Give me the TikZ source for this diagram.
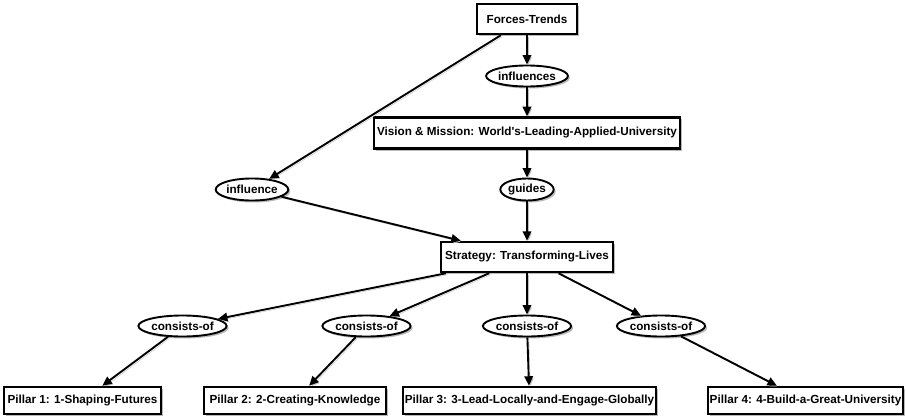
\documentclass[tikz,border=0pt]{standalone}
\usepackage{fontspec}
\setmainfont{Liberation Sans}
\usetikzlibrary{arrows.meta,shapes.geometric,shadows}
\begin{document}
\begin{tikzpicture}[x=1pt,y=-1pt,
  every node/.style={font=\fontsize{11.7}{14}\selectfont\bfseries, inner sep=0pt},
  soft shadow/.style={drop shadow={shadow xshift=2pt, shadow yshift=-2pt, fill=black!45, opacity=0.6}},
  concept/.style={draw, rectangle, line width=2.5pt, fill=white, soft shadow},
  linkword/.style={draw, ellipse, line width=1.9pt, fill=white, soft shadow},
  conn/.style={line width=1.9pt, -{Triangle[length=9.5pt,width=8.5pt]},
    preaction={draw=black!25, transform canvas={xshift=1.5pt, yshift=-1.5pt}}}
]
\useasboundingbox[fill=white] (0,0) rectangle (906,420);

% concepts
\node[concept, minimum width=100pt, minimum height=30pt] (forces) at (527,19) {Forces-Trends};
\node[concept, minimum width=306pt, minimum height=31pt] (vision) at (527,133) {Vision \& Mission: World\textquotesingle s-Leading-Applied-University};
\node[concept, minimum width=172pt, minimum height=30pt] (strategy) at (527,257) {Strategy: Transforming-Lives};
\node[concept, minimum width=157pt, minimum height=27pt] (p1) at (82.5,400.5) {Pillar 1: 1-Shaping-Futures};
\node[concept, minimum width=182pt, minimum height=27pt] (p2) at (295,400.5) {Pillar 2: 2-Creating-Knowledge};
\node[concept, minimum width=253pt, minimum height=27pt] (p3) at (529.5,400.5) {Pillar 3: 3-Lead-Locally-and-Engage-Globally};
\node[concept, minimum width=195pt, minimum height=27pt] (p4) at (805.5,400.5) {Pillar 4: 4-Build-a-Great-University};

% linking phrases
\node[linkword, minimum width=64pt, minimum height=21pt] (influences) at (527,76) {influences};
\node[linkword, minimum width=47pt, minimum height=22pt] (guides) at (527,189.5) {guides};
\node[linkword, minimum width=59pt, minimum height=22pt] (influence) at (252,189.5) {influence};
\node[linkword, minimum width=76pt, minimum height=21pt] (c1) at (182.5,326) {consists-of};
\node[linkword, minimum width=76pt, minimum height=21pt] (c2) at (366.5,326) {consists-of};
\node[linkword, minimum width=76pt, minimum height=21pt] (c3) at (527,326) {consists-of};
\node[linkword, minimum width=76pt, minimum height=21pt] (c4) at (661,326) {consists-of};

% propositions
\draw[conn] (forces) -- (influences);
\draw[conn] (influences) -- (vision);
\draw[conn] (vision) -- (guides);
\draw[conn] (guides) -- (strategy);
\draw[conn] (forces) -- (influence);
\draw[conn] (influence) -- (strategy);
\foreach \c/\p in {c1/p1, c2/p2, c3/p3, c4/p4} {
  \draw[conn] (strategy) -- (\c);
  \draw[conn] (\c) -- (\p);
}
\end{tikzpicture}
\end{document}
